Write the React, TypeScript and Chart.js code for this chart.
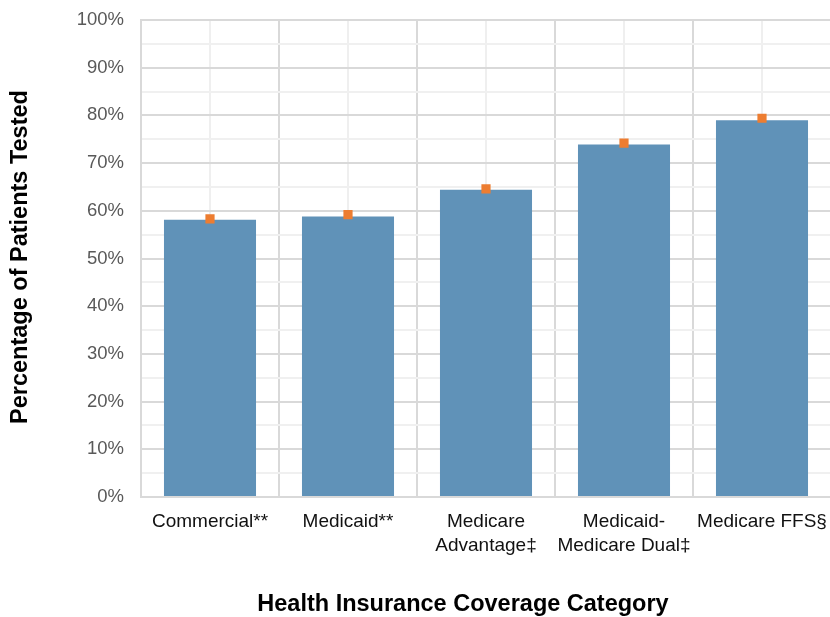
import React, { useEffect, useRef } from "react";
import { Chart, registerables } from "chart.js";

Chart.register(...registerables);

// Health insurance coverage categories (multi-line labels as arrays)
const categories: (string | string[])[] = [
  "Commercial**",
  "Medicaid**",
  ["Medicare", "Advantage‡"],
  ["Medicaid-", "Medicare Dual‡"],
  "Medicare FFS§",
];

// Percentage of patients tested (bars)
const testedPct = [58.1, 58.8, 64.4, 73.9, 79.0];

// Orange point estimates shown atop each bar
const markerPct = [58.3, 59.2, 64.6, 74.2, 79.4];

// Y-axis range and step (labels every 10%, light lines every 5%)
const yMin = 0;
const yMax = 100;
const yStep = 5;

const yTitle = "Percentage of Patients Tested";
const xTitle = "Health Insurance Coverage Category";

const FONT = "'Liberation Sans', Arial, Helvetica, sans-serif";

const decorations = {
  id: "decorations",
  beforeDraw(chart: any) {
    // light vertical lines through each category centre
    const { ctx, chartArea, scales } = chart;
    ctx.save();
    ctx.strokeStyle = "#efefef";
    ctx.lineWidth = 2;
    categories.forEach((_, i) => {
      const x = Math.round(scales.x.getPixelForValue(i));
      ctx.beginPath();
      ctx.moveTo(x, chartArea.top);
      ctx.lineTo(x, chartArea.bottom);
      ctx.stroke();
    });
    ctx.restore();
  },
  afterDraw(chart: any) {
    const { ctx } = chart;
    ctx.save();
    ctx.fillStyle = "#000000";
    ctx.font = `bold 23.5px ${FONT}`;
    ctx.textAlign = "center";
    ctx.textBaseline = "middle";
    // x-axis title
    ctx.fillText(xTitle, 463, 605);
    // y-axis title (rotated)
    ctx.translate(21, 257);
    ctx.rotate(-Math.PI / 2);
    ctx.fillText(yTitle, 0, 0);
    ctx.restore();
  },
};

export default function App() {
  const canvasRef = useRef<HTMLCanvasElement | null>(null);

  useEffect(() => {
    if (!canvasRef.current) return;
    const chart = new Chart(canvasRef.current, {
      type: "bar",
      data: {
        labels: categories as any,
        datasets: [
          {
            type: "line",
            label: "Estimate",
            data: markerPct,
            showLine: false,
            pointStyle: "rect",
            pointRadius: 6.5,
            pointBackgroundColor: "#ED7D31",
            pointBorderWidth: 0,
            order: 0,
          } as any,
          {
            type: "bar",
            label: "Patients Tested",
            data: testedPct,
            backgroundColor: "#6092B8",
            borderWidth: 0,
            categoryPercentage: 1,
            barPercentage: 0.667,
            order: 1,
          },
        ],
      },
      options: {
        responsive: false,
        animation: false,
        events: [],
        layout: {
          autoPadding: false,
          padding: { top: 20, left: 0, right: 0, bottom: 0 },
        },
        plugins: {
          legend: { display: false },
          tooltip: { enabled: false },
        },
        scales: {
          x: {
            offset: true,
            grid: {
              offset: true,
              color: "#d9d9d9",
              lineWidth: 2,
              drawTicks: false,
            },
            border: { display: true, color: "#d9d9d9", width: 2 },
            ticks: {
              color: "#111111",
              font: { family: FONT, size: 19, lineHeight: 1.3 },
              padding: 12,
              maxRotation: 0,
              autoSkip: false,
            },
            afterFit(scale: any) {
              scale.height = 120;
              scale.paddingLeft = 0;
              scale.paddingRight = 0;
              scale.paddingTop = 0;
              scale.paddingBottom = 0;
            },
          },
          y: {
            min: yMin,
            max: yMax,
            grid: {
              color: (ctx: any) =>
                ctx.tick && ctx.tick.value % 10 === 0 ? "#d9d9d9" : "#f0f0f0",
              lineWidth: 2,
              drawTicks: false,
            },
            border: { display: true, color: "#d9d9d9", width: 2 },
            ticks: {
              stepSize: yStep,
              autoSkip: false,
              color: "#595959",
              font: { family: FONT, size: 18.5 },
              padding: 17,
              callback: (v: any) => (Number(v) % 10 === 0 ? `${v}%` : ""),
            },
            afterFit(scale: any) {
              scale.width = 141;
              scale.paddingLeft = 0;
              scale.paddingRight = 0;
              scale.paddingTop = 0;
              scale.paddingBottom = 0;
            },
          },
        },
      },
      plugins: [decorations],
    });
    return () => chart.destroy();
  }, []);

  return (
    <div
      style={{
        position: "fixed",
        left: 0,
        top: 0,
        width: 830,
        height: 617,
        overflow: "hidden",
        background: "#ffffff",
      }}
    >
      <canvas ref={canvasRef} width={831} height={617} />
    </div>
  );
}
